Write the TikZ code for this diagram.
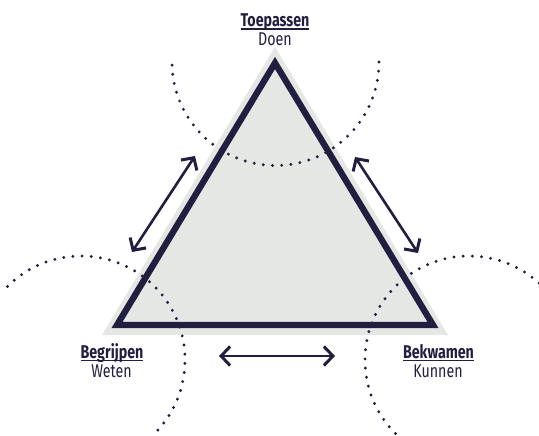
\documentclass[tikz,border=0pt]{standalone}
\usepackage{fontspec}
\setmainfont{Fira Sans}[FakeStretch=0.77]
\usetikzlibrary{arrows.meta}
\definecolor{navy}{HTML}{221E3F}
\definecolor{lightgrey}{HTML}{E5E7E4}
\newcommand\ulword[1]{\setbox0\hbox{#1}\rlap{\color{navy}\rule[-3pt]{\wd0}{1.3pt}}\box0}
\tikzset{
  lbl/.style={anchor=base, inner sep=0pt, text=navy, font=\fontsize{18.5}{19}\selectfont},
  lblbold/.style={lbl, font=\fontsize{18.5}{19}\selectfont\bfseries},
  dots/.style={draw=navy, line width=3.2pt, line cap=round, dash pattern=on 0pt off 9.2pt},
  twoway/.style={draw=navy, line width=2.6pt, {Straight Barb[length=9pt,width=19pt,line width=3pt]}-{Straight Barb[length=9pt,width=19pt,line width=3pt]}}
}
\begin{document}
\begin{tikzpicture}[x=1pt,y=-1pt]
\useasboundingbox (0,0) rectangle (539,436);
% triangles
\coordinate (gA) at (275,47);
\coordinate (gB) at (102,335);
\coordinate (gC) at (448,335);
\fill[lightgrey] (gA) -- (gB) -- (gC) -- cycle;
\coordinate (dA) at (275,63);
\coordinate (dB) at (117,325);
\coordinate (dC) at (433,325);
\draw[navy, line width=6.3pt, line join=miter] (dA) -- (dB) -- (dC) -- cycle;
% dotted arcs
\coordinate (cT) at (275.5,62);
\coordinate (cL) at (81,360);
\coordinate (cR) at (469,360);
\draw[dots] ([shift={(0:103.5)}]cT) arc[start angle=0, end angle=180, radius=103.5];
\draw[dots] ([shift={(-135:104)}]cL) arc[start angle=-135, end angle=45, radius=104];
\draw[dots] ([shift={(135:104)}]cR) arc[start angle=135, end angle=315, radius=104];
% arrows
\coordinate (l1) at (195,156);
\coordinate (l2) at (132,252);
\coordinate (r1) at (355,157);
\coordinate (r2) at (418,253);
\coordinate (b1) at (219,356);
\coordinate (b2) at (335,356);
\draw[twoway] (l1) -- (l2);
\draw[twoway] (r1) -- (r2);
\draw[twoway] (b1) -- (b2);
% labels
\node[lblbold] (toeT) at (275,26.7) {\ulword{Toepassen}};
\node[lbl] (toeS) at (275,45.7) {Doen};
\node[lblbold] (begT) at (112,358) {\ulword{Begrijpen}};
\node[lbl] (begS) at (111.5,377) {Weten};
\node[lblbold] (bekT) at (438.5,358) {\ulword{Bekwamen}};
\node[lbl] (bekS) at (438,377) {Kunnen};
\end{tikzpicture}
\end{document}
